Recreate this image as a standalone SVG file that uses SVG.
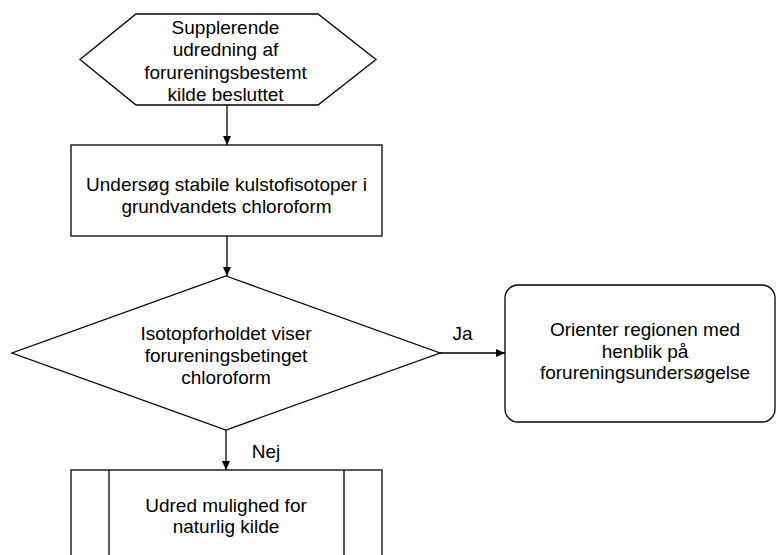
<svg xmlns="http://www.w3.org/2000/svg" width="776" height="555" viewBox="0 0 776 555">
<style>
.s{fill:#fff;stroke:#000;stroke-width:1.3}
.t{font-family:"Liberation Sans",Arial,sans-serif;font-size:19px;fill:#000;text-anchor:middle}
.c{stroke:#000;stroke-width:1.3;fill:none}
</style>
<defs>
<marker id="ah" markerWidth="10" markerHeight="10" refX="9" refY="5" orient="auto" markerUnits="userSpaceOnUse">
<path d="M0,1 L9,5 L0,9 Z" fill="#000"/>
</marker>
</defs>
<rect width="776" height="555" fill="#fff"/>
<g id="start">
<polygon class="s" points="136,14 318,14 376,59.5 318,105 136,105 80,59.5"/>
<text class="t" x="225.5" y="33.5">Supplerende</text>
<text class="t" x="225.5" y="56">udredning af</text>
<text class="t" x="225.5" y="78.7">forureningsbestemt</text>
<text class="t" x="225.5" y="101.4">kilde besluttet</text>
</g>
<g id="undersoeg">
<rect class="s" x="71" y="145" width="311" height="91"/>
<text class="t" x="226.5" y="190.5">Undersøg stabile kulstofisotoper i</text>
<text class="t" x="226.5" y="213">grundvandets chloroform</text>
</g>
<g id="decision">
<polygon class="s" points="226,276 440,353 226,430 12,353"/>
<text class="t" x="226" y="340">Isotopforholdet viser</text>
<text class="t" x="226" y="362">forureningsbetinget</text>
<text class="t" x="226" y="384">chloroform</text>
</g>
<g id="orienter">
<rect class="s" x="505" y="285" width="270" height="137" rx="13" ry="13"/>
<text class="t" x="645" y="336">Orienter regionen med</text>
<text class="t" x="645" y="357.5">henblik på</text>
<text class="t" x="645" y="379">forureningsundersøgelse</text>
</g>
<g id="udred">
<rect class="s" x="71" y="470" width="311" height="100"/>
<line class="c" x1="109" y1="470" x2="109" y2="570"/>
<line class="c" x1="344" y1="470" x2="344" y2="570"/>
<text class="t" x="226" y="511.7">Udred mulighed for</text>
<text class="t" x="226" y="533.3">naturlig kilde</text>
</g>
<g id="connectors">
<line class="c" x1="227" y1="105" x2="227" y2="145" marker-end="url(#ah)"/>
<line class="c" x1="227" y1="236" x2="227" y2="276" marker-end="url(#ah)"/>
<line class="c" x1="440" y1="353" x2="505" y2="353" marker-end="url(#ah)"/>
<line class="c" x1="226" y1="430" x2="226" y2="470" marker-end="url(#ah)"/>
<text class="t" x="462.5" y="340">Ja</text>
<text class="t" x="266" y="457.5">Nej</text>
</g>
</svg>
